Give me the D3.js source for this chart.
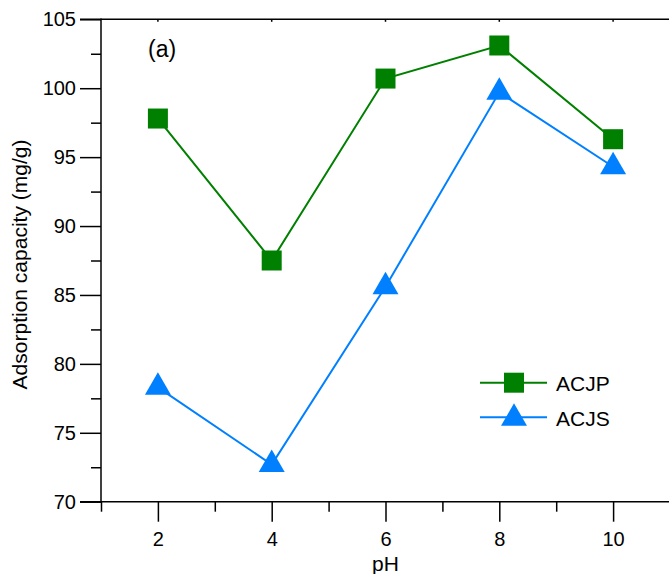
<!DOCTYPE html>
<html>
<head>
<meta charset="utf-8">
<script src="https://cdn.jsdelivr.net/npm/d3@7"></script>
<style>
  html, body { margin: 0; padding: 0; background: #fff; }
  svg { display: block; font-family: "Liberation Sans", Arial, Helvetica, sans-serif; }
</style>
</head>
<body>
<svg id="chart" width="669" height="574"></svg>
<script>
// pH values tested
const pH = [2, 4, 6, 8, 10];
// Adsorption capacity (mg/g) for each sorbent
const acjp = [97.8, 87.5, 100.7, 103.1, 96.3];
const acjs = [78.3, 72.7, 85.6, 99.7, 94.3];
const seriesNames = ["ACJP", "ACJS"];
const xMajorTicks = [2, 4, 6, 8, 10];
const xMinorTicks = [1, 3, 5, 7, 9, 11];
const yMajorTicks = [70, 75, 80, 85, 90, 95, 100, 105];
const yMinorTicks = [72.5, 77.5, 82.5, 87.5, 92.5, 97.5, 102.5];

const green = "#008000";
const blue = "#0080ff";

const svg = d3.select("#chart");
const plotLeft = 101, plotRight = 670, plotTop = 19.3, plotBottom = 501.7;

const x = d3.scaleLinear().domain([1, 11]).range([plotLeft, plotRight]);
const y = d3.scaleLinear().domain([70, 105]).range([plotBottom, plotTop]);

const axisStroke = 1.5;
const tickFont = 20;
const labelFont = 21;

// frame: top border
svg.append("line").attr("x1", 80).attr("x2", plotRight).attr("y1", y(105)).attr("y2", y(105))
  .attr("stroke", "#000").attr("stroke-width", axisStroke);
// tiny marks on top border at major x ticks
svg.append("g").selectAll("line").data(xMajorTicks).join("line")
  .attr("x1", d => x(d)).attr("x2", d => x(d))
  .attr("y1", y(105)).attr("y2", y(105) + 2.5)
  .attr("stroke", "#000").attr("stroke-width", 1.5);

// y axis: major ticks outward, minor ticks shorter
const yAxisMajor = d3.axisLeft(y).tickValues(yMajorTicks).tickSize(21).tickPadding(4).tickFormat(d3.format("d"));
const gy = svg.append("g").attr("transform", `translate(${plotLeft},0)`).call(yAxisMajor);
gy.select(".domain").remove();
gy.selectAll(".tick line").attr("stroke-width", axisStroke);
gy.selectAll(".tick text").attr("font-size", tickFont).attr("fill", "#000")
  .attr("font-family", "Liberation Sans, Arial, sans-serif");
const yAxisMinor = d3.axisLeft(y).tickValues(yMinorTicks).tickSize(10).tickFormat("");
const gyMinor = svg.append("g").attr("transform", `translate(${plotLeft},0)`).call(yAxisMinor);
gyMinor.select(".domain").remove();
gyMinor.selectAll(".tick line").attr("stroke-width", axisStroke);
svg.append("line").attr("x1", plotLeft).attr("x2", plotLeft).attr("y1", plotTop - 0.7).attr("y2", plotBottom)
  .attr("stroke", "#000").attr("stroke-width", axisStroke);

// x axis
const xAxisMajor = d3.axisBottom(x).tickValues(xMajorTicks).tickSize(20).tickPadding(10).tickFormat(d3.format("d"));
const gx = svg.append("g").attr("transform", `translate(0,${plotBottom})`).call(xAxisMajor);
gx.select(".domain").remove();
gx.selectAll(".tick line").attr("stroke-width", axisStroke);
gx.selectAll(".tick text").attr("font-size", tickFont).attr("fill", "#000")
  .attr("font-family", "Liberation Sans, Arial, sans-serif");
const xAxisMinor = d3.axisBottom(x).tickValues(xMinorTicks).tickSize(10).tickFormat("");
const gxMinor = svg.append("g").attr("transform", `translate(0,${plotBottom})`).call(xAxisMinor);
gxMinor.select(".domain").remove();
gxMinor.selectAll(".tick line").attr("stroke-width", axisStroke);
svg.append("line").attr("x1", 80).attr("x2", plotRight).attr("y1", plotBottom).attr("y2", plotBottom)
  .attr("stroke", "#000").attr("stroke-width", axisStroke);

// axis titles
svg.append("text").attr("x", x(6)).attr("y", 571)
  .attr("text-anchor", "middle").attr("font-size", labelFont).text("pH");
svg.append("text").attr("transform", `translate(27,${(plotTop + plotBottom) / 2 + 4}) rotate(-90)`)
  .attr("text-anchor", "middle").attr("font-size", labelFont).text("Adsorption capacity (mg/g)");

// panel label
svg.append("text").attr("x", 148).attr("y", 57).attr("font-size", 23).text("(a)");

// series lines and markers
const line = d3.line().x((d, i) => x(pH[i])).y(d => y(d));
const squareSize = 20;
const triangle = d3.symbol().type(d3.symbolTriangle).size(292);

svg.append("path").datum(acjp).attr("d", line)
  .attr("fill", "none").attr("stroke", green).attr("stroke-width", 2);
svg.append("path").datum(acjs).attr("d", line)
  .attr("fill", "none").attr("stroke", blue).attr("stroke-width", 2);

svg.append("g").selectAll("rect").data(acjp).join("rect")
  .attr("x", (d, i) => x(pH[i]) - squareSize / 2)
  .attr("y", d => y(d) - squareSize / 2)
  .attr("width", squareSize).attr("height", squareSize)
  .attr("fill", green);
svg.append("g").selectAll("path").data(acjs).join("path")
  .attr("d", triangle)
  .attr("transform", (d, i) => `translate(${x(pH[i])},${y(d)})`)
  .attr("fill", blue);

// legend
const legend = svg.append("g");
const legendRows = [
  { name: seriesNames[0], color: green, shape: "square", cy: 382.7 },
  { name: seriesNames[1], color: blue, shape: "triangle", cy: 417.3 }
];
legendRows.forEach(r => {
  legend.append("line").attr("x1", 480).attr("x2", 547).attr("y1", r.cy).attr("y2", r.cy)
    .attr("stroke", r.color).attr("stroke-width", 2);
  if (r.shape === "square") {
    legend.append("rect").attr("x", 514 - squareSize / 2).attr("y", r.cy - squareSize / 2)
      .attr("width", squareSize).attr("height", squareSize).attr("fill", r.color);
  } else {
    legend.append("path").attr("d", triangle)
      .attr("transform", `translate(514,${r.cy + 1})`).attr("fill", r.color);
  }
  legend.append("text").attr("x", 556).attr("y", r.cy + 8.5).attr("font-size", labelFont).text(r.name);
});
</script>
</body>
</html>
